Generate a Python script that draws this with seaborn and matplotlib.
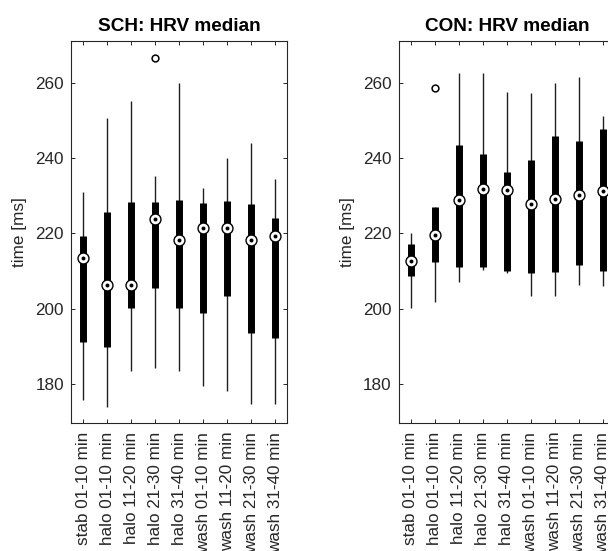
import matplotlib
matplotlib.use("Agg")
import matplotlib.pyplot as plt
import seaborn as sns
import pandas as pd
import numpy as np

categories = ["stab 01-10 min", "halo 01-10 min", "halo 11-20 min", "halo 21-30 min",
              "halo 31-40 min", "wash 01-10 min", "wash 11-20 min", "wash 21-30 min",
              "wash 31-40 min"]

sch_whislo = [175.8, 174.0, 183.5, 184.2, 183.5, 179.6, 178.2, 174.7, 174.7]
sch_q1 = [191.2, 189.8, 200.3, 205.4, 200.3, 199.0, 203.5, 193.5, 192.2]
sch_med = [213.6, 206.3, 206.3, 223.8, 218.3, 221.4, 221.4, 218.3, 219.2]
sch_q3 = [219.3, 225.6, 228.3, 228.3, 228.8, 228.1, 228.5, 227.8, 224.2]
sch_whishi = [231.1, 250.5, 255.2, 235.3, 259.8, 232.0, 240.0, 243.9, 234.5]
sch_out_cat = ["halo 21-30 min"]
sch_out_val = [266.6]

con_whislo = [200.3, 201.9, 207.2, 210.3, 209.4, 203.5, 203.5, 206.2, 206.0]
con_q1 = [208.6, 212.4, 211.2, 211.2, 210.1, 209.6, 209.8, 211.6, 210.1]
con_med = [212.7, 219.6, 228.8, 231.9, 231.5, 227.8, 229.0, 230.1, 231.2]
con_q3 = [217.1, 226.9, 243.5, 241.2, 236.2, 239.5, 245.8, 244.6, 247.6]
con_whishi = [220.0, 226.9, 262.7, 262.7, 257.4, 257.2, 259.8, 261.5, 251.2]
con_out_cat = ["halo 01-10 min"]
con_out_val = [258.6]

titles = ["SCH: HRV median", "CON: HRV median"]
y_ticks = [180, 200, 220, 240, 260]
y_label = "time [ms]"

sns.set_style("white")
plt.rcParams['font.family'] = ['Liberation Sans', 'DejaVu Sans']

AX_COL = "#262626"

fig = plt.figure(figsize=(6.08, 5.51), dpi=100)
W, H = 608, 551


def make_axes(left_px):
    return fig.add_axes([left_px / W, (H - 423.3) / H, 216.3 / W, (423.3 - 40.5) / H])


def draw(ax, lo, q1, med, q3, hi, out_cat, out_val, title):
    df = pd.DataFrame({"cat": categories, "lo": lo, "q1": q1, "med": med, "q3": q3, "hi": hi})
    pos = {c: i + 1 for i, c in enumerate(categories)}
    df["x"] = df["cat"].map(pos)
    ax.vlines(df["x"], df["lo"], df["hi"], colors="#202020", linewidth=1.0, capstyle="butt", zorder=2)
    ax.vlines(df["x"], df["q1"], df["q3"], colors="black", linewidth=5.0, capstyle="butt", zorder=3)
    sns.scatterplot(data=df, x="x", y="med", ax=ax, s=62, marker="o", color="white",
                    edgecolor="black", linewidth=1.0, zorder=4, legend=False)
    sns.scatterplot(data=df, x="x", y="med", ax=ax, s=8, marker="o", color="black",
                    edgecolor="black", linewidth=0, zorder=5, legend=False)
    odf = pd.DataFrame({"cat": out_cat, "val": out_val})
    odf["x"] = odf["cat"].map(pos)
    sns.scatterplot(data=odf, x="x", y="val", ax=ax, s=24, marker="o", color="white",
                    edgecolor="black", linewidth=1.1, zorder=4, legend=False)
    ax.set_xlim(0.5, 9.5)
    ax.set_ylim(169.6, 271.2)
    ax.set_xticks(range(1, len(categories) + 1))
    ax.set_xticklabels(categories, rotation=90, fontsize=12.3, color=AX_COL)
    ax.set_yticks(y_ticks)
    ax.set_yticklabels([str(v) for v in y_ticks], fontsize=12.3, color=AX_COL)
    ax.tick_params(axis="both", direction="in", length=3, width=0.7, color=AX_COL,
                   top=True, right=True, bottom=True, left=True, pad=5)
    ax.tick_params(axis="x", pad=6)
    ax.set_xlabel("")
    ax.set_ylabel(y_label, fontsize=12.3, color=AX_COL, labelpad=6)
    ax.set_title(title, fontsize=13.7, fontweight="bold", color="black", pad=7)
    for s in ax.spines.values():
        s.set_visible(True)
        s.set_color(AX_COL)
        s.set_linewidth(0.8)


ax1 = make_axes(71.0)
draw(ax1, sch_whislo, sch_q1, sch_med, sch_q3, sch_whishi, sch_out_cat, sch_out_val, titles[0])
ax2 = make_axes(398.7)
draw(ax2, con_whislo, con_q1, con_med, con_q3, con_whishi, con_out_cat, con_out_val, titles[1])

fig.savefig("out.png", dpi=100)
